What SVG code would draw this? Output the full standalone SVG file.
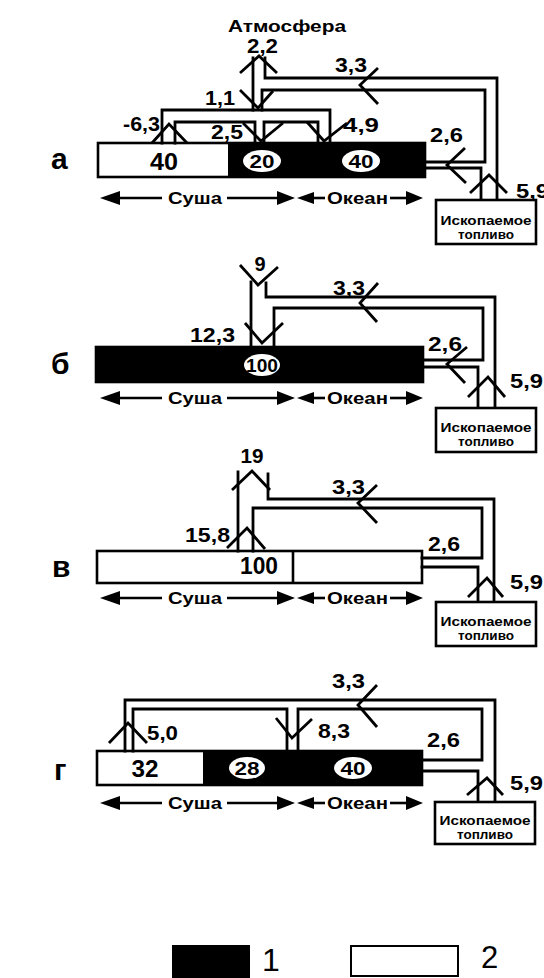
<svg xmlns="http://www.w3.org/2000/svg" xmlns:xlink="http://www.w3.org/1999/xlink" width="544" height="978" viewBox="0 0 544 978">
<style>
.ln{fill:none;stroke:#000;stroke-width:2.8;stroke-linejoin:miter;stroke-linecap:square}
.ah{fill:none;stroke:#000;stroke-width:2.8;stroke-linecap:butt}
.bar{stroke:#000;stroke-width:2.6}
.t{font-family:"Liberation Sans",Arial,Helvetica,sans-serif;font-weight:bold;fill:#000}
.num{font-size:20px}
.big{font-size:23px}
.inell{font-size:18px}
.lbl{font-size:17px}
.fb{font-size:12px}
.row{font-size:30px}
.ell{fill:#fff;stroke:none}
</style>
<defs>
<g id="axis">
<line x1="116" y1="0" x2="162" y2="0" stroke="#000" stroke-width="2.6"/>
<polygon points="100,0 120,-7 120,7" fill="#000"/>
<text class="t lbl" x="168" y="6" textLength="54" lengthAdjust="spacingAndGlyphs">Суша</text>
<line x1="227" y1="0" x2="282" y2="0" stroke="#000" stroke-width="2.6"/>
<polygon points="295,0 277,-7 277,7" fill="#000"/>
<polygon points="297,0 314,-6 314,6" fill="#000"/>
<line x1="312" y1="0" x2="325" y2="0" stroke="#000" stroke-width="2.6"/>
<text class="t lbl" x="327" y="6" textLength="61" lengthAdjust="spacingAndGlyphs">Океан</text>
<line x1="390" y1="0" x2="410" y2="0" stroke="#000" stroke-width="2.6"/>
<polygon points="423,0 406,-7 406,7" fill="#000"/>
</g>
</defs>

<!-- Panel a -->
<g id="panel-a">
<text class="t row" x="51" y="169">а</text>
<g id="a-bar">
<rect class="bar" x="98" y="143" width="327" height="34" fill="#fff"/>
<rect x="228" y="143" width="197" height="34" fill="#000"/>
<text class="t big" x="164" y="170" text-anchor="middle" textLength="28" lengthAdjust="spacingAndGlyphs">40</text>
<ellipse class="ell" cx="262" cy="161" rx="19" ry="11"/>
<text class="t inell" x="262" y="168" text-anchor="middle" textLength="25" lengthAdjust="spacingAndGlyphs">20</text>
<ellipse class="ell" cx="361" cy="161" rx="19" ry="11"/>
<text class="t inell" x="361" y="168" text-anchor="middle" textLength="25" lengthAdjust="spacingAndGlyphs">40</text>
</g>
<g id="a-atm">
<text class="t" style="font-size:17px" x="228" y="32" textLength="118" lengthAdjust="spacingAndGlyphs">Атмосфера</text>
</g>
<g id="a-fuel">
<rect x="436" y="200" width="100" height="44" fill="#fff" stroke="#000" stroke-width="2.6"/>
<text class="t fb" x="486" y="225" text-anchor="middle" textLength="91" lengthAdjust="spacingAndGlyphs">Ископаемое</text>
<text class="t fb" x="486" y="239" text-anchor="middle" textLength="56" lengthAdjust="spacingAndGlyphs">топливо</text>
</g>
<use xlink:href="#axis" href="#axis" y="198"/>
<g id="a-flows">
<path class="ln" d="M253,58 V110 M265,58 V78 H497 V199 M262,110 V90 H485 V162 H425 M425,168 H481 V199"/>
<path class="ln" d="M162,143 V110 H330 V143 M175,143 V122 H255 V143 M264,143 V122 H318 V143"/>
<polyline class="ah" points="240,73 259,56 277,73"/>
<polyline class="ah" points="240,90 258,108 273,91"/>
<polyline class="ah" points="152,143 169,124 187,143"/>
<polyline class="ah" points="243,123 261,141 283,123"/>
<polyline class="ah" points="307,122 324,141 347,123"/>
<polyline class="ah" points="378,68 360,85 378,104"/>
<polyline class="ah" points="465,148 447,165 466,183"/>
<polyline class="ah" points="470,193 489,175 507,193"/>
</g>
<g id="a-labels">
<text class="t num" x="247" y="53" textLength="31" lengthAdjust="spacingAndGlyphs">2,2</text>
<text class="t num" x="335" y="72" textLength="32" lengthAdjust="spacingAndGlyphs">3,3</text>
<text class="t num" x="205" y="105" textLength="30" lengthAdjust="spacingAndGlyphs">1,1</text>
<text class="t num" x="123" y="131" textLength="37" lengthAdjust="spacingAndGlyphs">-6,3</text>
<text class="t num" x="211" y="139" textLength="32" lengthAdjust="spacingAndGlyphs">2,5</text>
<text class="t num" x="343" y="132" textLength="36" lengthAdjust="spacingAndGlyphs">4,9</text>
<text class="t num" x="430" y="142" textLength="33" lengthAdjust="spacingAndGlyphs">2,6</text>
<text class="t num" x="516" y="198" textLength="33" lengthAdjust="spacingAndGlyphs">5,9</text>
</g>
</g>

<!-- Panel b -->
<g id="panel-b">
<text class="t row" x="51" y="374">б</text>
<g id="b-bar">
<rect class="bar" x="96" y="347" width="327" height="35" fill="#000"/>
<ellipse class="ell" cx="262" cy="365" rx="18" ry="11"/>
<text class="t inell" x="262" y="372" text-anchor="middle" textLength="32" lengthAdjust="spacingAndGlyphs">100</text>
</g>
<g id="b-fuel">
<rect x="436" y="408" width="100" height="44" fill="#fff" stroke="#000" stroke-width="2.6"/>
<text class="t fb" x="486" y="432" text-anchor="middle" textLength="91" lengthAdjust="spacingAndGlyphs">Ископаемое</text>
<text class="t fb" x="486" y="446" text-anchor="middle" textLength="56" lengthAdjust="spacingAndGlyphs">топливо</text>
</g>
<use xlink:href="#axis" href="#axis" y="398"/>
<g id="b-flows">
<path class="ln" d="M251,282 V347 M266,283 V297 H495 V407 M274,347 V308 H483 V360 H423 M423,367 H478 V407"/>
<polyline class="ah" points="240,265 258,285 278,267"/>
<polyline class="ah" points="245,323 262,343 283,323"/>
<polyline class="ah" points="378,283 360,303 377,322"/>
<polyline class="ah" points="467,347 447,364 465,383"/>
<polyline class="ah" points="468,397 488,377 505,397"/>
</g>
<g id="b-labels">
<text class="t num" x="260" y="271" text-anchor="middle">9</text>
<text class="t num" x="190" y="342" textLength="45" lengthAdjust="spacingAndGlyphs">12,3</text>
<text class="t num" x="333" y="295" textLength="32" lengthAdjust="spacingAndGlyphs">3,3</text>
<text class="t num" x="428" y="351" textLength="34" lengthAdjust="spacingAndGlyphs">2,6</text>
<text class="t num" x="510" y="388" textLength="33" lengthAdjust="spacingAndGlyphs">5,9</text>
</g>
</g>

<!-- Panel c -->
<g id="panel-c">
<text class="t row" x="52" y="577">в</text>
<g id="c-bar">
<rect class="bar" x="97" y="551" width="325" height="32" fill="#fff"/>
<line x1="293" y1="551" x2="293" y2="583" stroke="#000" stroke-width="2.6"/>
<text class="t big" x="259" y="574" text-anchor="middle" textLength="38" lengthAdjust="spacingAndGlyphs">100</text>
</g>
<g id="c-fuel">
<rect x="436" y="602" width="100" height="44" fill="#fff" stroke="#000" stroke-width="2.6"/>
<text class="t fb" x="486" y="626" text-anchor="middle" textLength="91" lengthAdjust="spacingAndGlyphs">Ископаемое</text>
<text class="t fb" x="486" y="640" text-anchor="middle" textLength="56" lengthAdjust="spacingAndGlyphs">топливо</text>
</g>
<use xlink:href="#axis" href="#axis" y="598"/>
<g id="c-flows">
<path class="ln" d="M238,472 V551 M268,474 V499 H494 V601 M253,551 V508 H482 V558 H422 M422,567 H478 V601"/>
<polyline class="ah" points="232,490 252,471 270,490"/>
<polyline class="ah" points="227,548 247,528 265,549"/>
<polyline class="ah" points="377,485 358,503 377,523"/>
<polyline class="ah" points="468,597 487,578 503,597"/>
</g>
<g id="c-labels">
<text class="t num" x="252" y="463" text-anchor="middle" textLength="23" lengthAdjust="spacingAndGlyphs">19</text>
<text class="t num" x="185" y="542" textLength="45" lengthAdjust="spacingAndGlyphs">15,8</text>
<text class="t num" x="332" y="494" textLength="33" lengthAdjust="spacingAndGlyphs">3,3</text>
<text class="t num" x="428" y="551" textLength="32" lengthAdjust="spacingAndGlyphs">2,6</text>
<text class="t num" x="510" y="589" textLength="33" lengthAdjust="spacingAndGlyphs">5,9</text>
</g>
</g>

<!-- Panel d -->
<g id="panel-d">
<text class="t row" x="54" y="780">г</text>
<g id="d-bar">
<rect class="bar" x="97" y="751" width="325" height="34" fill="#fff"/>
<rect x="203" y="751" width="219" height="34" fill="#000"/>
<text class="t big" x="145" y="777" text-anchor="middle" textLength="27" lengthAdjust="spacingAndGlyphs">32</text>
<ellipse class="ell" cx="247" cy="768" rx="18" ry="11"/>
<text class="t inell" x="247" y="775" text-anchor="middle" textLength="25" lengthAdjust="spacingAndGlyphs">28</text>
<ellipse class="ell" cx="353" cy="768" rx="19" ry="11"/>
<text class="t inell" x="353" y="775" text-anchor="middle" textLength="25" lengthAdjust="spacingAndGlyphs">40</text>
</g>
<g id="d-fuel">
<rect x="435" y="802" width="100" height="42" fill="#fff" stroke="#000" stroke-width="2.6"/>
<text class="t fb" x="485" y="825" text-anchor="middle" textLength="91" lengthAdjust="spacingAndGlyphs">Ископаемое</text>
<text class="t fb" x="485" y="839" text-anchor="middle" textLength="56" lengthAdjust="spacingAndGlyphs">топливо</text>
</g>
<use xlink:href="#axis" href="#axis" y="803"/>
<g id="d-flows">
<path class="ln" d="M125,751 V700 H495 V801 M133,751 V709 H287 V751 M298,751 V709 H482 V760 H422 M422,771 H478 V801"/>
<polyline class="ah" points="109,743 128,723 147,743"/>
<polyline class="ah" points="276,718 292,738 312,719"/>
<polyline class="ah" points="377,685 358,705 377,727"/>
<polyline class="ah" points="467,795 487,778 503,795"/>
</g>
<g id="d-labels">
<text class="t num" x="147" y="740" textLength="31" lengthAdjust="spacingAndGlyphs">5,0</text>
<text class="t num" x="318" y="738" textLength="32" lengthAdjust="spacingAndGlyphs">8,3</text>
<text class="t num" x="332" y="688" textLength="33" lengthAdjust="spacingAndGlyphs">3,3</text>
<text class="t num" x="427" y="747" textLength="33" lengthAdjust="spacingAndGlyphs">2,6</text>
<text class="t num" x="510" y="790" textLength="33" lengthAdjust="spacingAndGlyphs">5,9</text>
</g>
</g>

<!-- Legend -->
<g id="legend-1">
<rect x="172" y="945" width="78" height="33" fill="#000"/>
<text x="262" y="971" style="font-family:'Liberation Sans',Arial,sans-serif;font-size:32px">1</text>
</g>
<g id="legend-2">
<rect x="351" y="946" width="107" height="30" fill="#fff" stroke="#000" stroke-width="2"/>
<text x="481" y="968" style="font-family:'Liberation Sans',Arial,sans-serif;font-size:31px">2</text>
</g>
</svg>
